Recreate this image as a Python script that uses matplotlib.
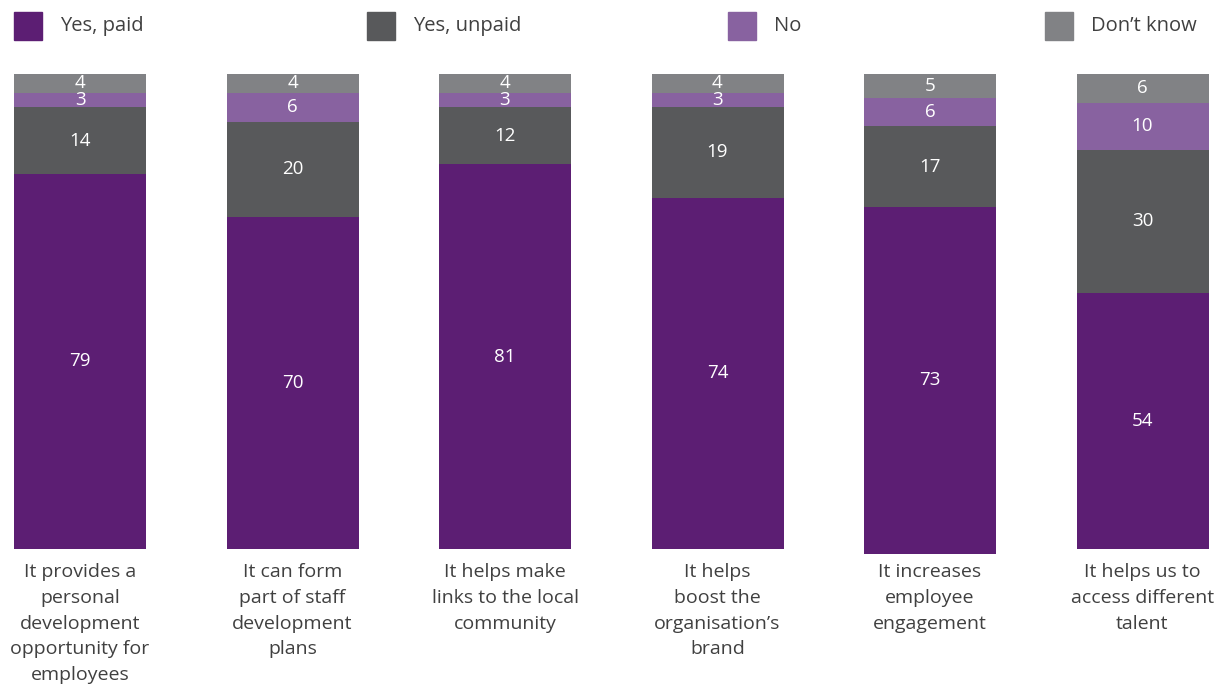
import numpy as np
import matplotlib.pyplot as plt
from matplotlib.patches import Rectangle

plt.rcParams['font.family'] = ['Open Sans', 'DejaVu Sans']

categories = [
    "It provides a\npersonal\ndevelopment\nopportunity for\nemployees",
    "It can form\npart of staff\ndevelopment\nplans",
    "It helps make\nlinks to the local\ncommunity",
    "It helps\nboost the\norganisation\u2019s\nbrand",
    "It increases\nemployee\nengagement",
    "It helps us to\naccess different\ntalent",
]
yes_paid = [79, 70, 81, 74, 73, 54]
yes_unpaid = [14, 20, 12, 19, 17, 30]
no = [3, 6, 3, 3, 6, 10]
dont_know = [4, 4, 4, 4, 5, 6]

series = [
    ("Don\u2019t know", dont_know, "#818285"),
    ("No", no, "#8862a0"),
    ("Yes, unpaid", yes_unpaid, "#58595b"),
    ("Yes, paid", yes_paid, "#5c1e73"),
]
legend_order = ["Yes, paid", "Yes, unpaid", "No", "Don\u2019t know"]
legend_x = [14, 367, 728, 1045]

W, H = 1219, 686
fig = plt.figure(figsize=(W / 100, H / 100), dpi=100)
top_px, bottom_px = 74, 549
ax = fig.add_axes([0, 1 - bottom_px / H, 1, (bottom_px - top_px) / H])

x = np.arange(len(categories))
spacing = 212.5
ax.set_xlim(-80 / spacing, (W - 80) / spacing)
ax.set_ylim(100, 0)

# stack downward from the top edge
start = np.zeros(len(categories))
for name, vals, color in series:
    vals = np.array(vals)
    ax.bar(x, vals, width=132 / spacing, bottom=start, color=color,
           clip_on=False, label=name)
    for xi, s, v in zip(x, start, vals):
        ax.text(xi, s + v / 2, str(v), ha='center', va='center',
                color='white', fontsize=13.5)
    start = start + vals

ax.set_xticks(x)
ax.set_xticklabels(categories, fontsize=14, color='#404040', linespacing=1.56)
ax.tick_params(axis='x', length=0, pad=10)
ax.set_yticks([])
for sp in ax.spines.values():
    sp.set_visible(False)

colors = {name: color for name, _, color in series}
for name, lx in zip(legend_order, legend_x):
    fig.add_artist(Rectangle((lx / W, 1 - 40 / H), 28 / W, 28 / H,
                             transform=fig.transFigure, color=colors[name]))
    fig.text((lx + 46) / W, 1 - 26 / H, name, va='center', ha='left',
             fontsize=14.5, color='#404040')

fig.savefig('out.png', dpi=100)
